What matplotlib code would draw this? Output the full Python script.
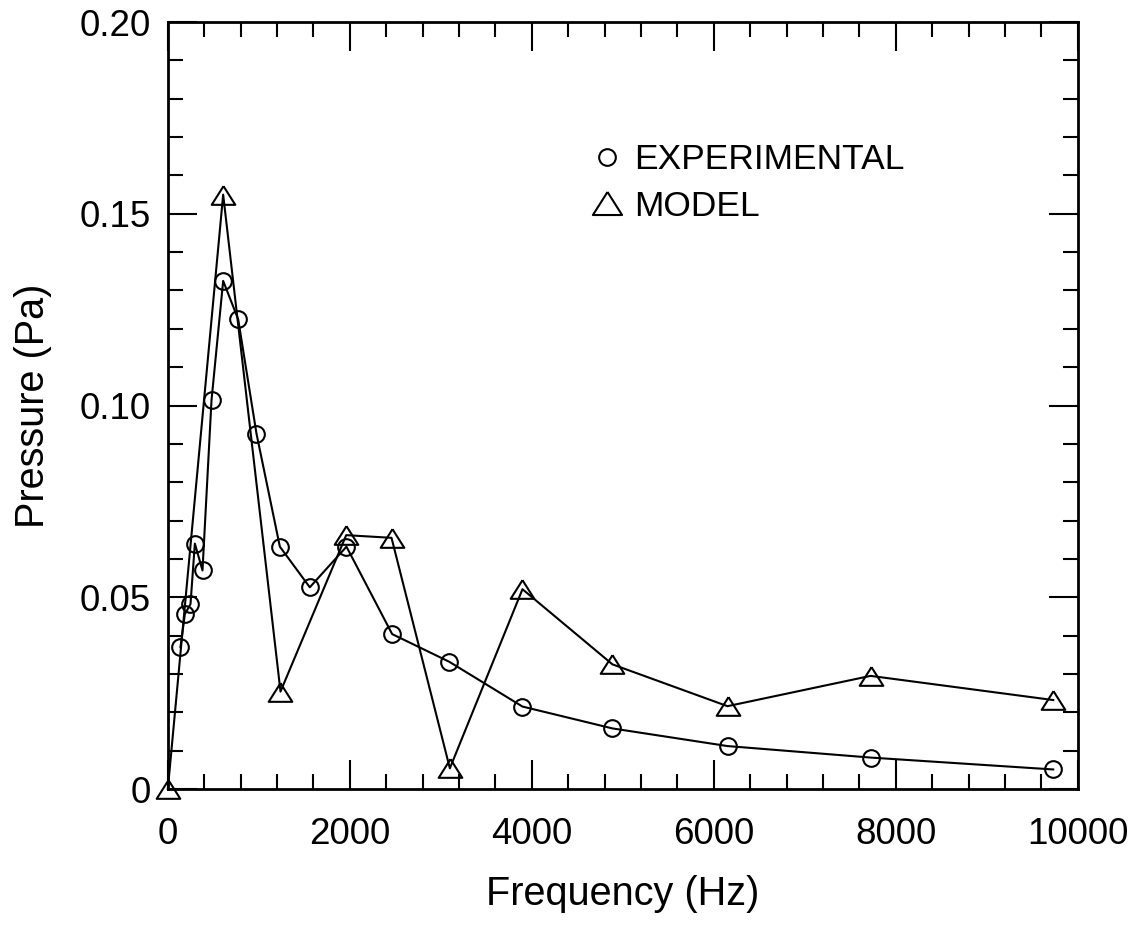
import matplotlib
matplotlib.use("Agg")
import matplotlib.pyplot as plt
import matplotlib.ticker as mticker
from matplotlib.lines import Line2D

# --- Data ---
exp_freq = [139, 187, 249, 297, 381, 480, 608, 773, 974, 1231, 1560,
            1963, 2465, 3091, 3897, 4886, 6150, 7722, 9729]
exp_pressure = [0.0370, 0.0456, 0.0482, 0.0640, 0.0570, 0.1014, 0.1325,
                0.1225, 0.0927, 0.0632, 0.0526, 0.0632, 0.0404, 0.0332,
                0.0215, 0.0158, 0.0112, 0.0082, 0.0051]

model_freq = [0, 608, 1238, 1960, 2458, 3099, 3897, 4886, 6150, 7722, 9729]
model_pressure = [0.0, 0.1550, 0.0254, 0.0662, 0.0655, 0.0054, 0.0521,
                  0.0325, 0.0216, 0.0295, 0.0232]

x_ticks = [0, 2000, 4000, 6000, 8000, 10000]
y_ticks = [0, 0.05, 0.10, 0.15, 0.20]
y_tick_labels = ["0", "0.05", "0.10", "0.15", "0.20"]

plt.rcParams["font.family"] = ["Liberation Sans", "DejaVu Sans"]

# wide, flat triangle like the original plotter symbol
tri = [(0, 0.79), (-1, -0.79), (1, -0.79), (0, 0.79)]

fig = plt.figure(figsize=(11.34, 9.30), dpi=100)
ax = fig.add_axes([0.148, 0.1516, 0.8025, 0.8247])

ax.plot(exp_freq, exp_pressure, color="black", linewidth=1.5,
        marker="o", markersize=12, markerfacecolor="none",
        markeredgecolor="black", markeredgewidth=1.5, clip_on=False)
ax.plot(model_freq, model_pressure, color="black", linewidth=1.5,
        marker=tri, markersize=17, markerfacecolor="none",
        markeredgecolor="black", markeredgewidth=1.5, clip_on=False)

ax.set_xlim(0, 10000)
ax.set_ylim(0, 0.20)

ax.set_xticks(x_ticks)
ax.set_yticks(y_ticks)
ax.set_yticklabels(y_tick_labels)
ax.xaxis.set_minor_locator(mticker.MultipleLocator(400))
ax.yaxis.set_minor_locator(mticker.MultipleLocator(0.01))

ax.tick_params(which="both", direction="in", top=True, right=True,
               width=1.5, labelsize=26.5)
ax.tick_params(which="major", length=21)
ax.tick_params(which="minor", length=11)
ax.tick_params(axis="x", which="major", pad=20)
ax.tick_params(axis="y", which="major", pad=12)
for spine in ax.spines.values():
    spine.set_linewidth(2)

ax.set_xlabel("Frequency (Hz)", fontsize=28.5, labelpad=17)
ax.set_ylabel("Pressure (Pa)", fontsize=28.5, labelpad=20)

# legend: symbols only, no frame
handles = [
    Line2D([], [], linestyle="none", marker="o", markersize=12,
           markerfacecolor="none", markeredgecolor="black", markeredgewidth=1.5),
    Line2D([], [], linestyle="none", marker=tri, markersize=21,
           markerfacecolor="none", markeredgecolor="black", markeredgewidth=1.5),
]
ax.legend(handles, ["EXPERIMENTAL", "MODEL"], loc="upper left",
          bbox_to_anchor=(0.464, 0.842), frameon=False, fontsize=25.5,
          handlelength=0.95, handletextpad=0.3, labelspacing=0.38,
          borderpad=0, borderaxespad=0)

fig.savefig("out.png", dpi=100)
plt.close(fig)
